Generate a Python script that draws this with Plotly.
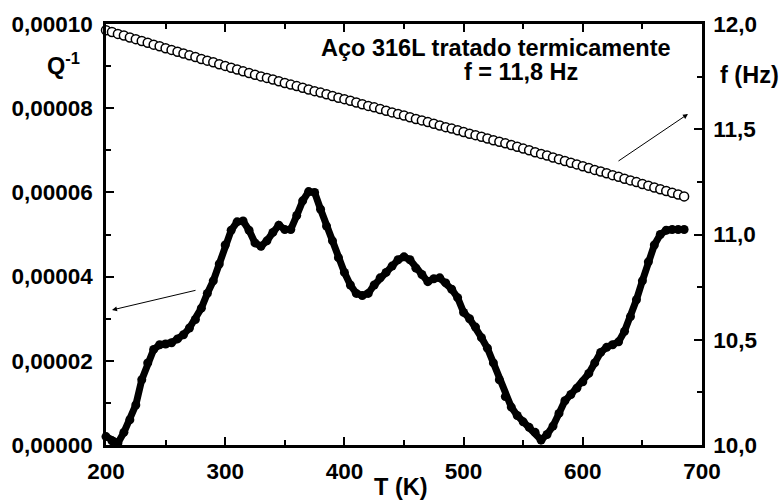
import plotly.graph_objects as go

# Internal friction Q^-1 vs temperature
T_q = [200, 205, 210, 215, 220, 225, 230, 235, 240, 245, 250, 255, 260, 265, 270, 275,
       280, 285, 290, 295, 300, 305, 310, 315, 320, 325, 330, 335, 340, 345, 350, 355,
       360, 365, 370, 375, 380, 385, 390, 395, 400, 405, 410, 415, 420, 425, 430, 435,
       440, 445, 450, 455, 460, 465, 470, 475, 480, 485, 490, 495, 500, 505, 510, 515,
       520, 525, 530, 535, 540, 545, 550, 555, 560, 565, 570, 575, 580, 585, 590, 595,
       600, 605, 610, 615, 620, 625, 630, 635, 640, 645, 650, 655, 660, 665, 670, 675,
       680, 685]
Q_e5 = [0.20, 0.10, 0.05, 0.30, 0.60, 0.95, 1.55, 1.95, 2.27, 2.38, 2.40, 2.43, 2.52, 2.62, 2.78, 2.98,
        3.25, 3.60, 3.90, 4.30, 4.75, 5.10, 5.30, 5.32, 5.10, 4.80, 4.72, 4.85, 5.05, 5.22, 5.12, 5.12,
        5.45, 5.80, 6.02, 6.00, 5.60, 5.20, 4.85, 4.45, 4.10, 3.80, 3.60, 3.55, 3.60, 3.80, 3.97, 4.10,
        4.25, 4.40, 4.47, 4.40, 4.20, 4.05, 3.88, 3.95, 3.97, 3.85, 3.70, 3.50, 3.15, 3.00, 2.80, 2.55,
        2.30, 1.95, 1.55, 1.15, 0.90, 0.70, 0.55, 0.42, 0.30, 0.12, 0.25, 0.45, 0.75, 1.05, 1.20, 1.35,
        1.50, 1.70, 1.95, 2.20, 2.32, 2.38, 2.45, 2.70, 3.05, 3.45, 3.90, 4.35, 4.75, 5.00, 5.10, 5.12,
        5.12, 5.12]
Q = [v * 1e-5 for v in Q_e5]

# Frequency f (Hz) vs temperature
T_f = T_q
f_hz = [11.970, 11.962, 11.953, 11.945, 11.936, 11.928, 11.919, 11.911, 11.902, 11.894, 11.885, 11.877,
        11.868, 11.860, 11.851, 11.843, 11.834, 11.826, 11.818, 11.809, 11.801, 11.792, 11.784, 11.775,
        11.767, 11.759, 11.751, 11.744, 11.736, 11.728, 11.720, 11.712, 11.705, 11.697, 11.689, 11.681,
        11.674, 11.666, 11.658, 11.650, 11.643, 11.635, 11.627, 11.619, 11.611, 11.604, 11.596, 11.588,
        11.580, 11.573, 11.565, 11.557, 11.549, 11.542, 11.534, 11.526, 11.518, 11.510, 11.503, 11.495,
        11.487, 11.479, 11.472, 11.464, 11.456, 11.448, 11.441, 11.433, 11.425, 11.417, 11.408, 11.400,
        11.391, 11.383, 11.375, 11.366, 11.358, 11.349, 11.341, 11.333, 11.324, 11.316, 11.307, 11.299,
        11.291, 11.282, 11.274, 11.265, 11.257, 11.249, 11.240, 11.232, 11.223, 11.215, 11.207, 11.198,
        11.190, 11.181]

FONT = "Liberation Sans, Arial, sans-serif"
FS = 22.5
AFS = 23.5

fig = go.Figure()
fig.add_trace(go.Scatter(
    x=T_q, y=Q, mode="lines+markers", yaxis="y",
    line=dict(color="black", width=7),
    marker=dict(symbol="circle", size=9, color="black"),
    cliponaxis=False, showlegend=False))
fig.add_trace(go.Scatter(
    x=T_f, y=f_hz, mode="markers", yaxis="y2",
    marker=dict(symbol="circle", size=9, color="white", line=dict(color="black", width=1.5)),
    cliponaxis=False, showlegend=False))

axis_common = dict(showgrid=False, zeroline=False, showline=True, linecolor="black", linewidth=2.5,
                   ticks="inside", ticklen=8, tickwidth=2, tickcolor="black",
                   tickfont=dict(family=FONT, size=FS, color="black", weight="bold"))

fig.update_layout(
    width=784, height=503,
    margin=dict(l=106, r=82, t=24, b=58),
    paper_bgcolor="white", plot_bgcolor="white",
    separators=",.",
    font=dict(family=FONT, size=FS, color="black", weight="bold"),
    xaxis=dict(range=[200, 700], tickvals=[200, 300, 400, 500, 600, 700], mirror="ticks",
               minor=dict(dtick=50, ticks="inside", ticklen=5, tickwidth=2, tickcolor="black"),
               ticklabelstandoff=4, **axis_common),
    yaxis=dict(range=[0, 0.0001], tickvals=[0, 0.00002, 0.00004, 0.00006, 0.00008, 0.0001],
               tickformat=".5f", mirror=False,
               minor=dict(dtick=0.00001, ticks="inside", ticklen=5, tickwidth=2, tickcolor="black"),
               ticklabelstandoff=6, **axis_common),
    yaxis2=dict(range=[10, 12], overlaying="y", side="right", tickvals=[10, 10.5, 11, 11.5, 12],
                tickformat=".1f",
                minor=dict(dtick=0.25, ticks="inside", ticklen=5, tickwidth=2, tickcolor="black"),
                ticklabelstandoff=4, **axis_common),
)

ann_font = dict(family=FONT, size=AFS, color="black", weight="bold")
fig.add_annotation(xref="paper", yref="paper", x=0.9513, y=0.943, xanchor="right", yanchor="middle",
                   text="Aço 316L tratado termicamente", showarrow=False, font=ann_font)
fig.add_annotation(xref="paper", yref="paper", x=0.6963, y=0.886, xanchor="center", yanchor="middle",
                   text="f = 11,8 Hz", showarrow=False, font=ann_font)
fig.add_annotation(xref="paper", yref="paper", x=-0.0705, y=0.905, xanchor="center", yanchor="middle",
                   text="Q<sup>-1</sup>", showarrow=False, font=ann_font)
fig.add_annotation(xref="paper", yref="paper", x=1.0805, y=0.879, xanchor="center", yanchor="middle",
                   text="f (Hz)", showarrow=False, font=ann_font)
fig.add_annotation(xref="paper", yref="paper", x=0.495, y=-0.0998, xanchor="center", yanchor="middle",
                   text="T (K)", showarrow=False, font=ann_font)
# arrows
fig.add_annotation(xref="paper", yref="paper", x=0.0101, y=0.3207, ax=85, ay=-20,
                   showarrow=True, arrowhead=2, arrowsize=1, arrowwidth=1, arrowcolor="black", text="")
fig.add_annotation(xref="paper", yref="paper", x=0.9765, y=0.7862, ax=-71, ay=48,
                   showarrow=True, arrowhead=2, arrowsize=1, arrowwidth=1, arrowcolor="black", text="")

fig.write_html("out.html")
